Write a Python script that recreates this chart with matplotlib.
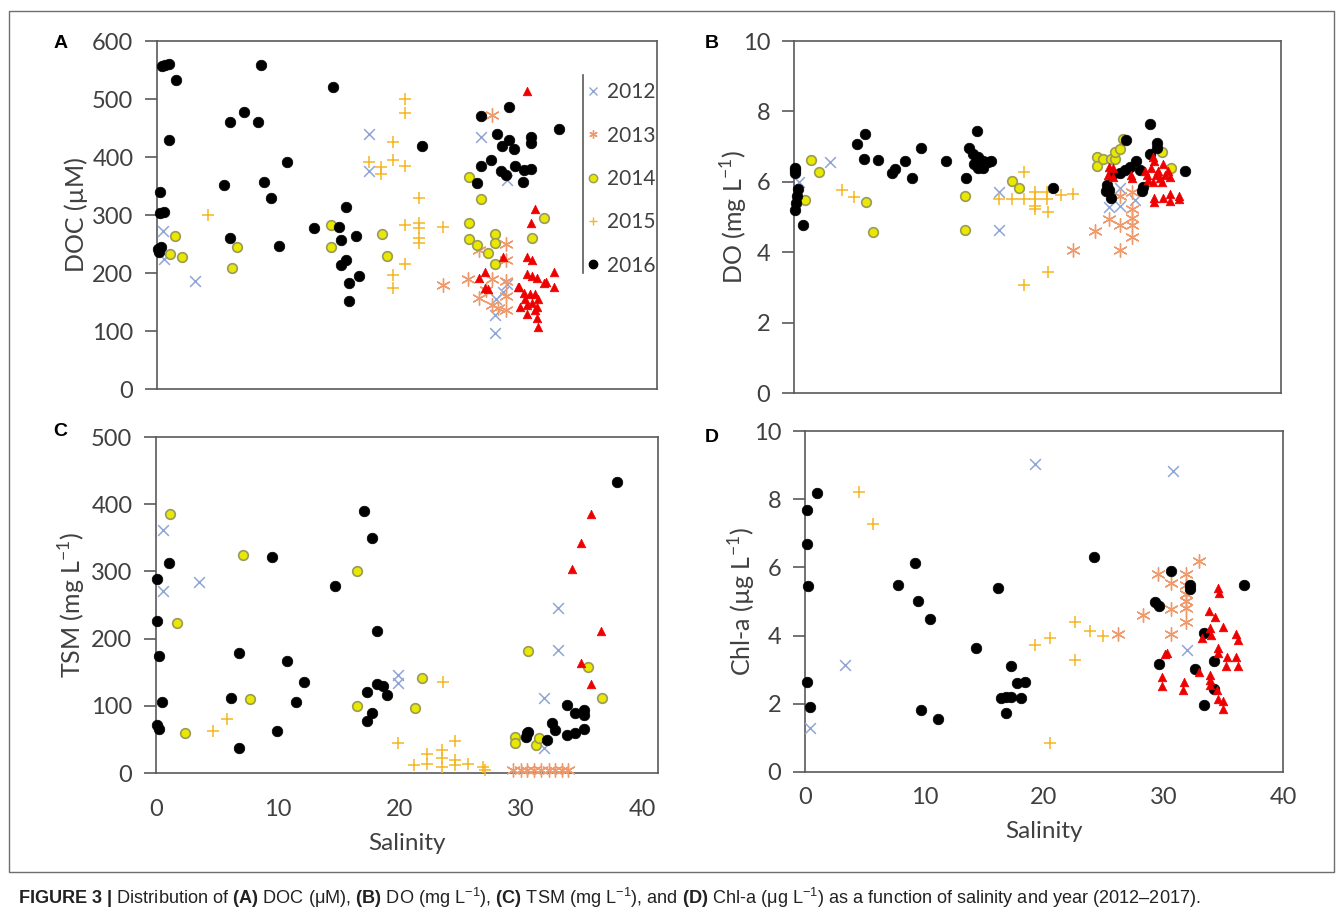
import numpy as np
import matplotlib as mpl
import matplotlib.pyplot as plt
from matplotlib.patches import Rectangle
from matplotlib.lines import Line2D

mpl.rcParams.update({
    "font.family": ["Lato", "DejaVu Sans"],
    "mathtext.fontset": "custom",
    "mathtext.rm": "Liberation Sans",
    "mathtext.bf": "Liberation Sans:bold",
    "mathtext.it": "Liberation Sans:italic",
})

# ------------ data (salinity, value) ------------
doc_2012 = [(0.5, 272), (0.6, 225), (3.1, 187), (17.5, 439), (17.5, 376), (26.8, 434),
            (28.9, 360), (28.9, 181), (28.0, 155), (27.9, 128), (27.9, 97), (28.6, 168)]
doc_2013 = [(27.7, 473), (23.6, 179), (25.7, 189), (26.6, 240), (28.8, 250), (28.8, 222),
            (27.7, 190), (26.6, 157), (28.8, 186), (27.7, 145), (28.8, 136), (28.2, 140),
            (28.8, 160), (27.2, 170)]
doc_2014 = [(1.5, 264), (1.1, 232), (2.1, 227), (6.2, 209), (6.6, 244), (14.4, 283),
            (14.4, 244), (18.6, 267), (19.0, 229), (25.8, 366), (26.8, 327), (25.8, 287),
            (25.8, 258), (26.4, 248), (27.9, 268), (27.9, 251), (27.35, 235), (27.9, 215),
            (32.0, 294), (31.0, 260)]
doc_2015 = [(4.2, 300), (20.5, 500), (20.5, 475), (19.5, 426), (17.5, 392), (18.5, 383),
            (18.5, 370), (19.5, 395), (20.5, 384), (21.6, 330), (20.5, 282), (21.6, 286),
            (21.6, 277), (21.6, 260), (21.6, 251), (23.6, 280), (20.5, 215), (19.5, 197),
            (19.5, 175)]
doc_2016 = [(0.4, 557), (0.7, 558), (1.0, 560), (1.56, 532), (8.56, 559), (14.5, 521),
            (0.99, 429), (6.06, 460), (7.19, 477), (8.34, 460), (21.9, 419), (10.7, 392),
            (5.5, 352), (8.8, 357), (9.44, 329), (0.25, 339), (0.25, 303), (0.58, 306),
            (0.1, 242), (0.2, 237), (0.3, 245), (6.06, 260), (10.1, 247), (15.6, 314),
            (13.0, 277), (15.0, 280), (15.2, 257), (16.4, 264), (15.6, 222), (15.2, 214),
            (15.9, 182), (16.7, 194), (15.9, 152), (33.2, 449), (26.8, 470), (29.1, 487),
            (28.1, 440), (29.05, 429), (28.5, 419), (29.5, 413), (30.9, 434), (30.9, 424),
            (26.8, 384), (27.6, 394), (28.4, 375), (28.8, 369), (29.6, 384), (30.3, 378),
            (30.9, 380), (26.4, 356), (30.2, 357)]
doc_2017 = [(30.6, 513), (31.2, 310), (30.9, 286), (30.6, 228), (31.0, 222), (28.6, 228),
            (27.1, 202), (26.6, 191), (27.1, 174), (27.3, 172), (30.6, 199), (31.0, 195),
            (31.4, 191), (32.8, 202), (32.1, 185), (32.8, 176), (29.8, 176), (30.3, 165),
            (30.8, 164), (31.2, 163), (30.0, 142), (30.6, 145), (31.0, 148), (31.4, 142),
            (30.6, 130), (31.2, 136), (31.4, 122), (31.5, 107), (32.0, 182), (29.9, 176),
            (30.4, 155), (31.5, 155)]

do_2012 = [(0.4, 6.0), (2.95, 6.55), (16.8, 5.71), (16.8, 4.62), (25.9, 5.27), (26.8, 5.32),
           (26.8, 5.81), (28.0, 5.47)]
do_2013 = [(22.9, 4.07), (24.7, 4.59), (25.85, 4.93), (26.8, 4.78), (26.8, 4.07), (27.8, 5.22),
           (27.8, 4.98), (27.8, 4.78), (27.8, 4.44), (26.8, 5.6), (27.8, 5.7)]
do_2014 = [(1.39, 6.61), (2.02, 6.28), (0.88, 5.47), (5.92, 5.44), (6.48, 4.57), (14.03, 5.6),
           (14.03, 4.64), (17.93, 6.01), (18.5, 5.81), (24.9, 6.71), (24.9, 6.45), (25.4, 6.64),
           (26.0, 6.64), (26.4, 6.64), (26.4, 6.84), (26.8, 6.94), (27.0, 7.23), (30.2, 6.84),
           (31.0, 6.40)]
do_2015 = [(3.94, 5.78), (4.93, 5.57), (18.87, 6.27), (16.8, 5.52), (17.9, 5.52), (18.9, 5.52),
           (19.8, 5.71), (19.8, 5.52), (19.8, 5.32), (19.8, 5.22), (20.8, 5.71), (20.8, 5.52),
           (20.9, 5.13), (21.9, 5.62), (22.9, 5.64), (18.9, 3.07), (20.9, 3.43)]
do_2016 = [(0.05, 6.4), (0.05, 6.25), (0.1, 6.33), (0.3, 5.8), (0.25, 5.6), (0.2, 5.4),
           (0.1, 5.2), (0.77, 4.78), (5.21, 7.08), (5.83, 7.36), (5.78, 6.66), (6.9, 6.61),
           (8.04, 6.25), (8.32, 6.37), (9.11, 6.58), (9.73, 6.1), (10.44, 6.97), (12.48, 6.58),
           (14.12, 6.1), (15.05, 7.43), (14.4, 6.97), (14.7, 6.8), (15.1, 6.7), (15.5, 6.58),
           (15.9, 6.55), (16.2, 6.58), (15.1, 6.4), (15.5, 6.4), (14.8, 6.5), (21.24, 5.81),
           (29.2, 7.65), (27.3, 7.2), (29.8, 7.1), (29.8, 6.95), (29.2, 6.8), (28.1, 6.6),
           (27.6, 6.43), (27.2, 6.33), (26.8, 6.26), (28.4, 6.34), (26.1, 6.19), (32.1, 6.3),
           (25.7, 5.91), (25.9, 5.77), (28.7, 5.86), (28.6, 5.73), (25.6, 5.73), (26.0, 5.54)]
do_2017 = [(25.9, 6.43), (26.2, 6.39), (25.8, 6.19), (26.2, 6.15), (27.7, 6.19), (27.8, 6.1),
           (29.0, 6.2), (29.3, 6.4), (29.6, 6.6), (29.9, 6.3), (30.1, 6.1), (30.3, 6.5),
           (30.5, 6.2), (29.5, 6.0), (29.1, 6.05), (30.7, 6.3), (29.7, 6.2), (30.2, 6.0),
           (28.8, 6.3), (29.5, 6.7), (30.9, 6.15), (29.6, 5.55), (30.3, 5.55), (30.9, 5.65),
           (31.6, 5.6), (29.6, 5.42), (30.9, 5.45), (31.6, 5.5)]

tsm_2012 = [(0.55, 362), (0.55, 271), (3.57, 284), (19.9, 146), (19.9, 134), (33.1, 245),
            (33.1, 183), (31.9, 112), (31.9, 37)]
tsm_2013 = [(29.4, 4), (30.0, 4), (30.5, 4), (31.1, 4), (31.7, 4), (32.3, 4), (32.8, 4),
            (33.4, 4), (33.9, 5)]
tsm_2014 = [(1.15, 385), (1.76, 223), (7.13, 325), (16.5, 300), (7.74, 110), (2.39, 60),
            (16.5, 99), (21.9, 142), (21.3, 96), (30.6, 181), (35.5, 157), (36.7, 112),
            (29.55, 54), (29.55, 45), (31.3, 42), (31.5, 52)]
tsm_2015 = [(4.66, 63), (5.82, 80), (23.6, 136), (19.9, 44), (21.2, 12), (22.3, 29), (22.3, 14),
            (23.5, 34), (23.5, 22), (23.5, 9), (24.6, 47), (24.6, 19), (24.6, 12), (25.7, 14),
            (26.9, 9), (27.1, 4)]
tsm_2016 = [(37.9, 433), (17.1, 390), (17.8, 349), (9.52, 321), (1.07, 312), (0.11, 288),
            (14.7, 278), (0.11, 226), (18.2, 211), (0.25, 174), (6.86, 179), (10.8, 167),
            (12.2, 135), (18.2, 133), (18.7, 129), (19.0, 116), (17.4, 121), (17.8, 89),
            (17.4, 78), (0.47, 105), (6.15, 112), (11.5, 105), (0.05, 71), (0.27, 66),
            (9.93, 62), (6.86, 37), (30.5, 59), (30.6, 61), (30.4, 54), (32.2, 49), (32.6, 74),
            (32.8, 64), (33.8, 101), (34.5, 89), (35.2, 94), (35.2, 87), (33.8, 57), (34.5, 59),
            (35.2, 65)]
tsm_2017 = [(35.8, 385), (35.0, 343), (34.2, 304), (36.6, 211), (35.0, 164), (35.8, 133)]

chl_2012 = [(19.24, 9.03), (30.76, 8.83), (3.38, 3.13), (0.44, 1.28), (31.97, 3.58)]
chl_2013 = [(26.2, 4.06), (28.3, 4.59), (29.55, 5.8), (30.6, 5.53), (30.6, 4.79), (30.6, 4.06),
            (31.85, 5.8), (31.85, 5.49), (31.85, 5.22), (31.85, 5.02), (31.85, 4.82),
            (31.85, 4.41), (32.93, 6.18)]
chl_2014 = []
chl_2015 = [(4.48, 8.22), (5.69, 7.26), (19.24, 3.71), (20.53, 3.93), (22.63, 4.41),
            (22.63, 3.27), (23.85, 4.14), (24.94, 3.98), (20.47, 0.85)]
chl_2016 = [(1.02, 8.18), (0.16, 7.69), (0.16, 6.69), (0.27, 5.46), (0.16, 2.65), (0.45, 1.91),
            (9.23, 6.13), (7.76, 5.49), (9.44, 5.02), (10.44, 4.5), (9.72, 1.81), (11.17, 1.56),
            (14.33, 3.63), (16.12, 5.41), (24.22, 6.3), (17.22, 3.1), (17.74, 2.6), (18.43, 2.65),
            (16.4, 2.16), (16.8, 2.2), (17.2, 2.21), (18.1, 2.17), (16.84, 1.74), (30.6, 5.9),
            (32.2, 5.48), (32.2, 5.37), (29.26, 4.99), (29.6, 4.87), (36.7, 5.49), (33.35, 4.09),
            (29.6, 3.18), (34.2, 3.25), (32.6, 3.02), (34.2, 2.43), (33.35, 1.96)]
chl_2017 = [(34.6, 5.39), (33.8, 4.72), (34.3, 4.56), (35.0, 4.26), (36.1, 4.05), (33.9, 4.21),
            (34.0, 4.02), (33.2, 3.92), (34.6, 3.63), (34.6, 3.48), (35.3, 3.36), (36.1, 3.36),
            (30.3, 3.48), (30.1, 3.45), (29.85, 2.8), (31.7, 2.65), (33.0, 2.94), (33.9, 2.84),
            (33.9, 2.7), (33.9, 2.55), (34.45, 2.4), (35.0, 2.09), (34.65, 5.24), (36.2, 3.86),
            (36.2, 3.1), (29.9, 2.52), (31.6, 2.4), (34.94, 1.84), (34.6, 2.14), (35.2, 3.1)]

YEARS = ["2012", "2013", "2014", "2015", "2016", "2017"]

# Excel-ish marker styles per year
STYLES = {
    "2012": dict(marker="x", s=60, c="#8FA5D6", linewidths=1.1),
    "2013": dict(marker=(6, 2, 0), s=95, c="#EE9A6C", linewidths=1.0),
    "2014": dict(marker="o", s=48, c="#E8E800", edgecolors="#9A9A5A", linewidths=1.2),
    "2015": dict(marker="+", s=80, c="#F5B520", linewidths=1.1),
    "2016": dict(marker="o", s=58, c="black", edgecolors="black", linewidths=0.5),
    "2017": dict(marker="^", s=38, c="#EE0000", edgecolors="#EE0000", linewidths=0.5),
}

W, H = 1344, 924
AXIS_COL = "#5A5A5A"
TICK_COL = "#404040"


def frac(x0, y0, x1, y1):
    # pixel box -> figure fraction rect
    return [x0 / W, 1 - y1 / H, (x1 - x0) / W, (y1 - y0) / H]


def draw_panel(ax, series, ylim, yticks, xlim, xpad, ylabel, label_px, box):
    for yr, pts in zip(YEARS, series):
        if not pts:
            continue
        arr = np.array(pts, dtype=float)
        ax.scatter(arr[:, 0], arr[:, 1], clip_on=False, zorder=3, **STYLES[yr])
    ax.set_xlim(*xlim)
    ax.set_ylim(*ylim)
    ax.set_yticks(yticks)
    ax.set_xticks([0, 10, 20, 30, 40])
    for sp in ax.spines.values():
        sp.set_color(AXIS_COL)
        sp.set_linewidth(1.2)
    ax.tick_params(axis="y", direction="out", length=9, width=1.2, color=AXIS_COL,
                   labelsize=17, labelcolor=TICK_COL, pad=8)
    ax.tick_params(axis="x", length=0, labelsize=17, labelcolor=TICK_COL, pad=xpad or 0)
    if xpad is None:
        ax.set_xticklabels([])
    else:
        ax.set_xlabel("Salinity", fontsize=17.5, color=TICK_COL, labelpad=9)
    ax.set_ylabel(ylabel, fontsize=18, color=TICK_COL)
    x0, x1 = box[0], box[2]
    ax.yaxis.set_label_coords((label_px - x0) / (x1 - x0), 0.5)


fig = plt.figure(figsize=(W / 100, H / 100), dpi=100)

# outer frame of the figure panel
fig.patches.append(Rectangle((9 / W, 1 - 872 / H), (1334 - 9) / W, (872 - 11) / H,
                             transform=fig.transFigure, fill=False, ec="#6E6E6E", lw=1.0))

boxA = (157, 41, 657, 389)
boxB = (794, 41, 1281, 393)
boxC = (156, 437, 658, 773)
boxD = (805, 431, 1283, 772)

axA = fig.add_axes(frac(*boxA))
axB = fig.add_axes(frac(*boxB))
axC = fig.add_axes(frac(*boxC))
axD = fig.add_axes(frac(*boxD))

draw_panel(axA, [doc_2012, doc_2013, doc_2014, doc_2015, doc_2016, doc_2017],
           (0, 600), range(0, 601, 100), (0, 41.3), None, "DOC (µM)", 88, boxA)
draw_panel(axB, [do_2012, do_2013, do_2014, do_2015, do_2016, do_2017],
           (0, 10), range(0, 11, 2), (0, 40), None,
           r"DO (mg L$^{\mathregular{-1}}$)", 750, boxB)
draw_panel(axC, [tsm_2012, tsm_2013, tsm_2014, tsm_2015, tsm_2016, tsm_2017],
           (0, 500), range(0, 501, 100), (0, 41.3), 19,
           r"TSM (mg L$^{\mathregular{-1}}$)", 88, boxC)
draw_panel(axD, [chl_2012, chl_2013, chl_2014, chl_2015, chl_2016, chl_2017],
           (0, 10), range(0, 11, 2), (0, 40), 11,
           r"Chl-a (µg L$^{\mathregular{-1}}$)", 758, boxD)

# legend inside panel A (2012-2016 only), with the vertical bar on its left
handles = [Line2D([], [], linestyle="none", marker=STYLES[yr]["marker"],
                  markersize=6, color=STYLES[yr]["c"],
                  markerfacecolor=STYLES[yr]["c"],
                  markeredgecolor=STYLES[yr].get("edgecolors", STYLES[yr]["c"]),
                  markeredgewidth=1.0)
           for yr in YEARS[:5]]
leg = axA.legend(handles, YEARS[:5], loc="upper left", bbox_to_anchor=(0.843, 0.905),
                 frameon=False, fontsize=15, labelspacing=1.12, handlelength=0.6,
                 handletextpad=0.35, borderaxespad=0)
for t in leg.get_texts():
    t.set_color(TICK_COL)
axA.plot([(583 - 157) / 500] * 2, [(389 - 75) / 348, (389 - 273) / 348],
         transform=axA.transAxes, color=AXIS_COL, lw=1.2, clip_on=False)

# panel letters
for letter, (px, py) in zip("ABCD", [(61, 43), (712, 43), (60, 432), (712, 437)]):
    fig.text(px / W, 1 - py / H, letter, fontsize=14, fontweight="bold",
             family="Liberation Sans", ha="center", va="center")

caption = (r"$\mathbf{FIGURE\ 3\ |}$ Distribution of $\mathbf{(A)}$ DOC (μM), "
           r"$\mathbf{(B)}$ DO (mg L$^{-1}$), $\mathbf{(C)}$ TSM (mg L$^{-1}$), and "
           r"$\mathbf{(D)}$ Chl-a (μg L$^{-1}$) as a function of salinity and year (2012–2017).")
fig.text(18 / W, 1 - 898 / H, caption, fontsize=13.1, family="Liberation Sans",
         ha="left", va="center", color="#222222")

fig.savefig("out.png", dpi=100)
